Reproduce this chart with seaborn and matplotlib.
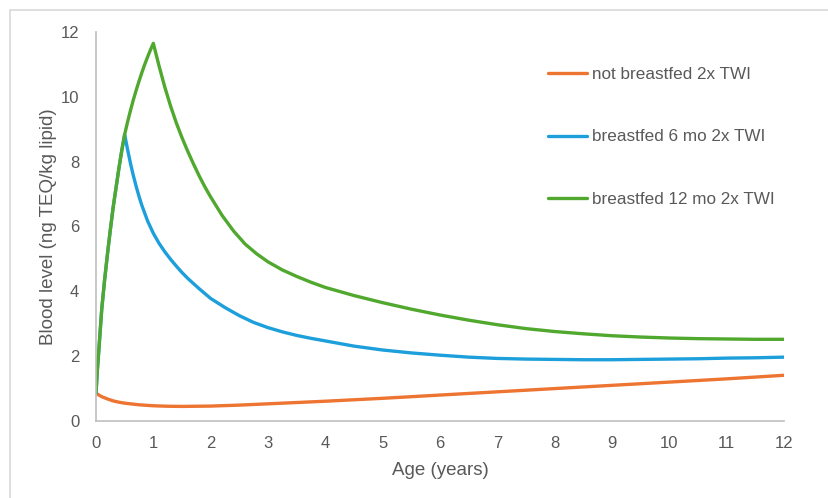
import matplotlib
matplotlib.use("Agg")
import matplotlib.pyplot as plt
from matplotlib.patches import Rectangle
import pandas as pd
import seaborn as sns

# Series labels
label_nbf = "not breastfed 2x TWI"
label_bf6 = "breastfed 6 mo 2x TWI"
label_bf12 = "breastfed 12 mo 2x TWI"

# Not breastfed
age_nbf = [0, 0.05, 0.1, 0.2, 0.3, 0.4, 0.5, 0.75, 1, 1.25, 1.5, 2, 2.5, 3, 4, 5,
           6, 7, 8, 9, 10, 11, 12]
level_nbf = [0.86, 0.80, 0.75, 0.68, 0.62, 0.58, 0.55, 0.50, 0.47, 0.455, 0.45, 0.46,
             0.49, 0.53, 0.61, 0.70, 0.80, 0.90, 1.00, 1.10, 1.20, 1.30, 1.41]

# Breastfed 6 months
age_bf6 = [0, 0.025, 0.05, 0.1, 0.15, 0.2, 0.25, 0.3, 0.35, 0.4, 0.45, 0.5,
           0.55, 0.6, 0.65, 0.7, 0.75, 0.8, 0.9, 1.0, 1.1, 1.2, 1.3, 1.4, 1.5, 1.6,
           1.8, 2.0, 2.25, 2.5, 2.75, 3.0, 3.25, 3.5, 3.75, 4.0, 4.5, 5, 5.5, 6,
           6.5, 7, 7.5, 8, 8.5, 9, 9.5, 10, 10.5, 11, 11.5, 12]
level_bf6 = [0.86, 1.6, 2.2, 3.45, 4.35, 5.15, 5.9, 6.6, 7.2, 7.8, 8.35, 8.84,
             8.38, 7.96, 7.58, 7.24, 6.93, 6.65, 6.17, 5.79, 5.48, 5.22, 4.99, 4.78, 4.58, 4.40,
             4.08, 3.78, 3.50, 3.25, 3.04, 2.88, 2.75, 2.64, 2.55, 2.47, 2.31, 2.19, 2.10, 2.03,
             1.97, 1.93, 1.91, 1.90, 1.89, 1.89, 1.90, 1.91, 1.92, 1.94, 1.95, 1.97]

# Breastfed 12 months
age_bf12 = [0, 0.025, 0.05, 0.1, 0.15, 0.2, 0.25, 0.3, 0.35, 0.4, 0.45, 0.5,
            0.55, 0.6, 0.65, 0.7, 0.75, 0.8, 0.85, 0.9, 0.95, 1.0,
            1.1, 1.2, 1.3, 1.4, 1.5, 1.6, 1.7, 1.8, 1.9, 2.0, 2.2, 2.4, 2.6, 2.8,
            3.0, 3.25, 3.5, 3.75, 4.0, 4.5, 5, 5.5, 6, 6.5, 7, 7.5, 8, 8.5, 9, 9.5,
            10, 10.5, 11, 11.5, 12]
level_bf12 = [0.86, 1.6, 2.2, 3.45, 4.35, 5.15, 5.9, 6.6, 7.2, 7.8, 8.35, 8.84,
              9.22, 9.57, 9.90, 10.20, 10.48, 10.75, 11.00, 11.23, 11.45, 11.65,
              10.95, 10.30, 9.72, 9.20, 8.74, 8.32, 7.93, 7.56, 7.22, 6.91, 6.34, 5.86, 5.46, 5.16,
              4.91, 4.66, 4.46, 4.28, 4.12, 3.87, 3.65, 3.45, 3.27, 3.11, 2.97, 2.85, 2.76,
              2.69, 2.63, 2.59, 2.56, 2.54, 2.53, 2.52, 2.52]

x_ticks = list(range(0, 13))
y_ticks = list(range(0, 13, 2))

df = pd.concat([
    pd.DataFrame({"age": age_nbf, "level": level_nbf, "series": label_nbf}),
    pd.DataFrame({"age": age_bf6, "level": level_bf6, "series": label_bf6}),
    pd.DataFrame({"age": age_bf12, "level": level_bf12, "series": label_bf12}),
], ignore_index=True)

sns.set_theme(style="white")
plt.rcParams["font.family"] = ["Liberation Sans", "DejaVu Sans"]

text_color = "#595959"
axis_color = "#BFBFBF"
palette = {label_nbf: "#ED7431", label_bf6: "#1C9FDA", label_bf12: "#50A82E"}

fig = plt.figure(figsize=(8.29, 4.98), dpi=100)
ax = fig.add_axes([96 / 829, 1 - 421 / 498, (784 - 96) / 829, (421 - 32) / 498])

sns.lineplot(data=df, x="age", y="level", hue="series",
             hue_order=[label_nbf, label_bf6, label_bf12], palette=palette,
             estimator=None, linewidth=2.4, ax=ax)
for line in ax.get_lines():
    line.set_solid_joinstyle("round")

ax.set_xlim(0, 12)
ax.set_ylim(0, 12)
ax.set_xticks(x_ticks)
ax.set_yticks(y_ticks)
ax.set_xticklabels([str(t) for t in x_ticks])
ax.set_yticklabels([str(t) for t in y_ticks])

for side in ("top", "right"):
    ax.spines[side].set_visible(False)
for side in ("left", "bottom"):
    ax.spines[side].set_color(axis_color)
    ax.spines[side].set_linewidth(1.2)

ax.tick_params(axis="both", length=0, labelsize=12, colors=text_color)
ax.tick_params(axis="y", pad=12)
ax.tick_params(axis="x", pad=11)

ax.set_xlabel("Age (years)", fontsize=13.5, color=text_color, labelpad=8)
ax.set_ylabel("Blood level (ng TEQ/kg lipid)", fontsize=13.5, color=text_color, labelpad=3)

handles, labels = ax.get_legend_handles_labels()
leg = ax.legend(handles, labels, frameon=False, loc="upper left",
                bbox_to_anchor=(548 / 829, 1 - 67 / 498), bbox_transform=fig.transFigure,
                borderaxespad=0, borderpad=0, handlelength=2.3, handletextpad=0.25,
                labelspacing=2.78, fontsize=12.3)
for t in leg.get_texts():
    t.set_color(text_color)

# Outer chart frame
fig.add_artist(Rectangle((10 / 829, -0.1), 1.2, 1 - 10 / 498 + 0.1,
                         transform=fig.transFigure, fill=False,
                         edgecolor="#D9D9D9", linewidth=1.2))

fig.savefig("out.png", dpi=100)
